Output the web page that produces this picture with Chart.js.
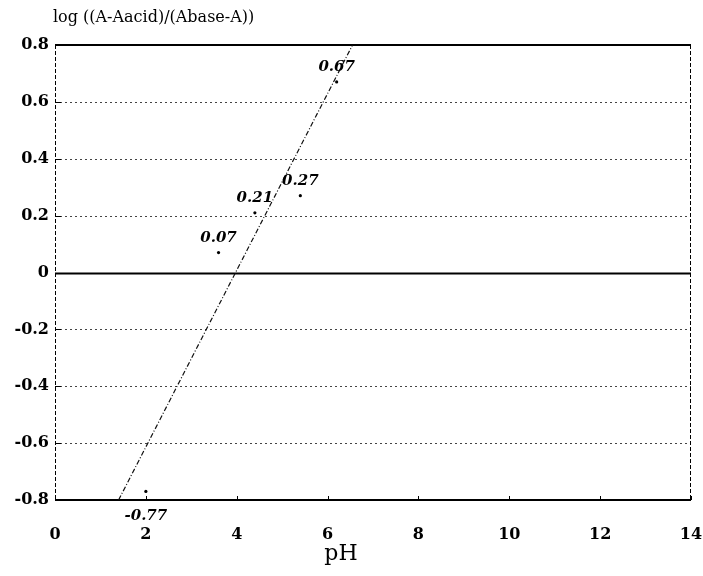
<!DOCTYPE html>
<html>
<head>
<meta charset="utf-8">
<script src="https://cdn.jsdelivr.net/npm/chart.js@4/dist/chart.umd.min.js"></script>
<style>
body{margin:0;background:#fff;}
#wrap{position:relative;width:703px;height:576px;}
</style>
</head>
<body>
<div id="wrap"><canvas id="phChart" width="703" height="576"></canvas></div>
<script>
// measured points (pH, log ratio)
const phValues = [3.6, 4.4, 5.4, 6.2, 2.0];
const logRatio = [0.07, 0.21, 0.27, 0.67, -0.77];
const pointLabels = ['0.07', '0.21', '0.27', '0.67', '-0.77'];
// fitted line, read at the plot edges
const fitPh = [1.4, 6.55];
const fitLog = [-0.8, 0.8];
const xTicks = [0, 2, 4, 6, 8, 10, 12, 14];
const yTicks = [-0.8, -0.6, -0.4, -0.2, 0, 0.2, 0.4, 0.6, 0.8];

const serif = '"DejaVu Serif", "Liberation Serif", serif';

// grid, frame and value labels
const decor = {
id: 'decor',
beforeDatasetsDraw(chart){
const c = chart.ctx, a = chart.chartArea;
const y = chart.scales.y, x = chart.scales.x;
c.save();
yTicks.forEach(v => {
const py = Math.round(y.getPixelForValue(v)) + 0.5;
if (v === 0.8 || v === -0.8) return;
c.beginPath();
if (v === 0) { c.setLineDash([]); c.lineWidth = 2; c.strokeStyle = '#000'; }
else { c.setLineDash([2, 3]); c.lineWidth = 1; c.strokeStyle = '#444'; }
c.moveTo(a.left, py); c.lineTo(a.right, py); c.stroke();
});
// frame
c.setLineDash([]); c.lineWidth = 2; c.strokeStyle = '#000';
c.beginPath(); c.moveTo(a.left, a.top); c.lineTo(a.right, a.top); c.stroke();
c.beginPath(); c.moveTo(a.left, a.bottom); c.lineTo(a.right, a.bottom); c.stroke();
c.lineWidth = 1; c.setLineDash([4, 2]);
c.beginPath(); c.moveTo(a.left + 0.5, a.top); c.lineTo(a.left + 0.5, a.bottom); c.stroke();
c.beginPath(); c.moveTo(a.right - 0.5, a.top); c.lineTo(a.right - 0.5, a.bottom); c.stroke();
c.setLineDash([]);
// small ticks
xTicks.forEach(v => {
const px = Math.round(x.getPixelForValue(v)) + 0.5;
c.beginPath(); c.moveTo(px, a.bottom); c.lineTo(px, a.bottom - 4); c.stroke();
});
yTicks.forEach(v => {
const py = Math.round(y.getPixelForValue(v)) + 0.5;
c.beginPath(); c.moveTo(a.left, py); c.lineTo(a.left + 6, py); c.stroke();
});
c.restore();
},
afterDatasetsDraw(chart){
const c = chart.ctx;
const x = chart.scales.x, y = chart.scales.y;
c.save();
c.font = 'bold italic 15px ' + serif;
c.fillStyle = '#000';
c.textAlign = 'center';
phValues.forEach((p, i) => {
const px = x.getPixelForValue(p), py = y.getPixelForValue(logRatio[i]);
if (logRatio[i] < 0) { c.textBaseline = 'top'; c.fillText(pointLabels[i], px, py + 17); }
else { c.textBaseline = 'bottom'; c.fillText(pointLabels[i], px, py - 7); }
});
// axis titles
c.font = '16px ' + serif;
c.textAlign = 'left'; c.textBaseline = 'alphabetic';
c.fillText('log ((A-Aacid)/(Abase-A))', 53, 22);
c.font = '22px ' + serif;
c.textAlign = 'center';
c.fillText('pH', 341, 560);
c.restore();
}
};

new Chart(document.getElementById('phChart'), {
type: 'scatter',
data: {
datasets: [{
label: 'measured',
data: phValues.map((p, i) => ({x: p, y: logRatio[i]})),
pointRadius: 1.6,
pointBackgroundColor: '#000',
pointBorderWidth: 0,
showLine: false
},{
label: 'fit',
data: fitPh.map((p, i) => ({x: p, y: fitLog[i]})),
showLine: true,
pointRadius: 0,
borderColor: '#111',
borderWidth: 1.2,
borderDash: [5, 2, 1, 2]
}]
},
plugins: [decor],
options: {
responsive: false,
animation: false,
layout: {padding: {left: 0, right: 0, top: 45, bottom: 0}},
plugins: {legend: {display: false}, tooltip: {enabled: false}},
scales: {
x: {
type: 'linear', min: 0, max: 14,
afterBuildTicks: s => { s.ticks = xTicks.map(v => ({value: v})); },
grid: {display: false, drawTicks: false},
border: {display: false},
ticks: {color: '#000', font: {family: serif, size: 16, weight: 'bold'}, padding: 25},
afterFit: s => { s.height = 76; s.paddingRight = 12; }
},
y: {
type: 'linear', min: -0.8, max: 0.8,
afterBuildTicks: s => { s.ticks = yTicks.map(v => ({value: v})); },
grid: {display: false, drawTicks: false},
border: {display: false},
ticks: {color: '#000', font: {family: serif, size: 16, weight: 'bold'}, padding: 6,
callback: v => v === 0 ? '0' : v.toFixed(1)},
afterFit: s => { s.width = 55; }
}
}
}
});
</script>
</body>
</html>
